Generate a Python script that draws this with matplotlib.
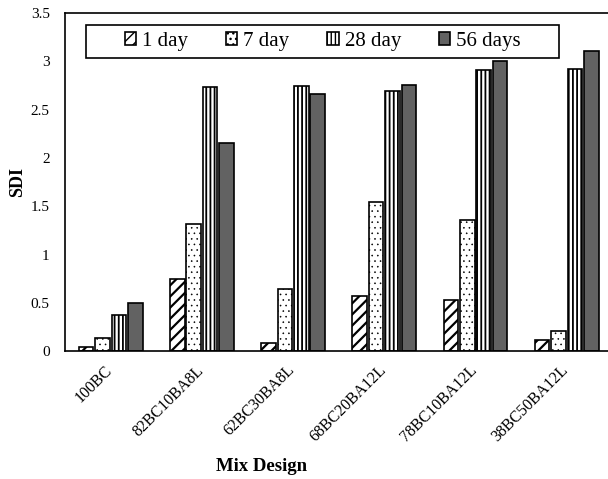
import numpy as np
import matplotlib
matplotlib.use("Agg")
import matplotlib.pyplot as plt
import matplotlib.transforms as mtransforms
from matplotlib.patches import Rectangle

mixes = ["100BC", "82BC10BA8L", "62BC30BA8L", "68BC20BA12L", "78BC10BA12L", "38BC50BA12L"]
sdi_1day = [0.04, 0.75, 0.08, 0.57, 0.53, 0.12]
sdi_7day = [0.14, 1.32, 0.64, 1.54, 1.36, 0.21]
sdi_28day = [0.37, 2.74, 2.75, 2.69, 2.91, 2.92]
sdi_56day = [0.50, 2.15, 2.66, 2.76, 3.00, 3.11]
series_labels = ["1 day", "7 day", "28 day", "56 days"]

plt.rcParams['font.family'] = ['Liberation Serif', 'DejaVu Serif']
plt.rcParams['hatch.color'] = 'black'

fig = plt.figure(figsize=(6.08, 4.79), dpi=100)
ax = fig.add_axes([0.107, 0.267, 0.90, 0.7056])

x = np.arange(len(mixes))
pitch = 0.18
width = 0.16
# facecolor, hatch, hatch linewidth
styles = [
    ('white', '///', 1.6),
    ('white', '...', 0.4),
    ('white', '||||', 1.3),
    ('#626262', None, 1.0),
]
all_series = [sdi_1day, sdi_7day, sdi_28day, sdi_56day]
for k, (vals, lab, st) in enumerate(zip(all_series, series_labels, styles)):
    fc, hatch, hlw = st
    with plt.rc_context({'hatch.linewidth': hlw}):
        bars = ax.bar(x + (k - 1.5) * pitch, vals, width, label=lab,
                      facecolor=fc, hatch=hatch, edgecolor='black', linewidth=1.2)
    for b in bars:
        if hasattr(b, 'set_hatch_linewidth'):
            b.set_hatch_linewidth(hlw)

ax.set_xlim(-0.5, 5.5)
ax.set_ylim(0, 3.5)
ax.set_yticks(np.arange(0, 3.51, 0.5))
ax.set_yticklabels(["0", "0.5", "1", "1.5", "2", "2.5", "3", "3.5"])
ax.set_xticks(x)
ax.set_xticklabels(mixes, rotation=45, ha='right')
ax.tick_params(axis='both', length=0, labelsize=11)
ax.tick_params(axis='x', pad=8, labelsize=11.5)
ax.tick_params(axis='y', pad=11)
# nudge rotated labels a little to the right
shift = mtransforms.ScaledTranslation(5 / 100, 0, fig.dpi_scale_trans)
for lbl in ax.get_xticklabels():
    lbl.set_transform(lbl.get_transform() + shift)
for side in ['left', 'top', 'bottom']:
    ax.spines[side].set_linewidth(1.2)
ax.spines['right'].set_visible(False)

ax.set_ylabel("SDI", fontweight='bold', fontsize=13)
ax.yaxis.set_label_coords(-0.072, 0.5)
ax.set_xlabel("Mix Design", fontweight='bold', fontsize=13.5)
ax.xaxis.set_label_coords(0.36, -0.315)

leg = ax.legend(ncol=4, loc='center', bbox_to_anchor=(0.471, 0.916),
                fontsize=15, frameon=False,
                handlelength=0.55, handleheight=0.55, handletextpad=0.3,
                borderpad=0.2, columnspacing=1.8)
ax.add_patch(Rectangle((0.0384, 0.867), 0.8646, 0.0975, transform=ax.transAxes,
                       facecolor='none', edgecolor='black', linewidth=1.2, zorder=6))

fig.savefig("out.png", dpi=100)
